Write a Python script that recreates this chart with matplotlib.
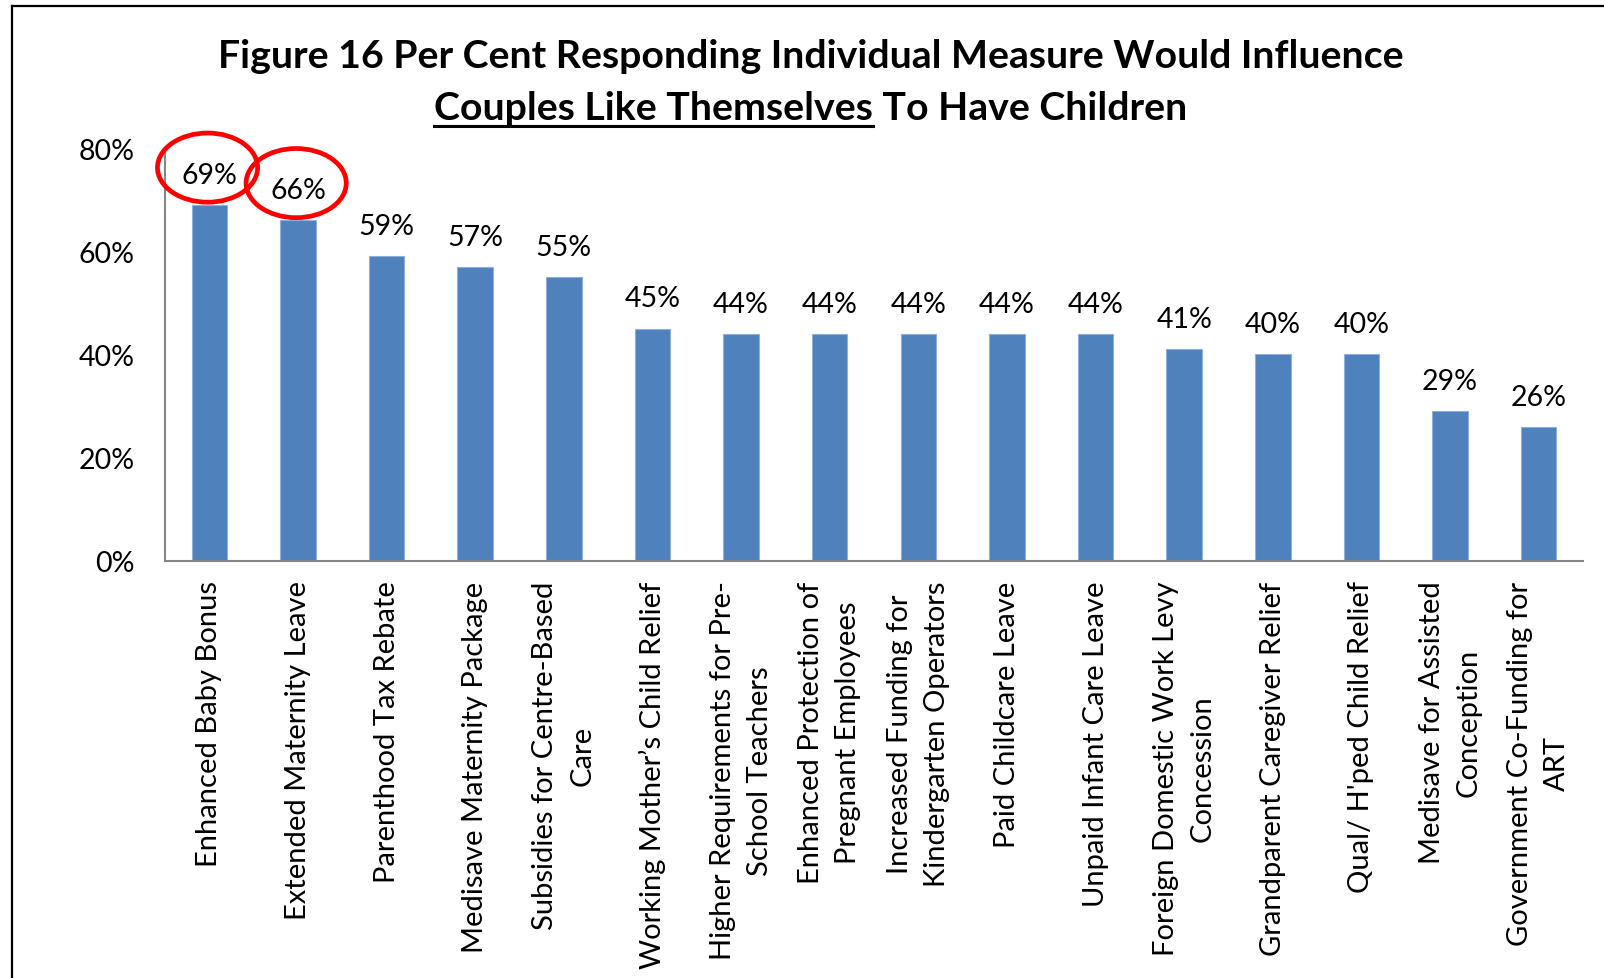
import numpy as np
import matplotlib
matplotlib.use("Agg")
import matplotlib.pyplot as plt
from matplotlib.patches import Ellipse
from matplotlib.lines import Line2D

plt.rcParams["font.family"] = ["Lato", "DejaVu Sans"]

categories = [
    "Enhanced Baby Bonus",
    "Extended Maternity Leave",
    "Parenthood Tax Rebate",
    "Medisave Maternity Package",
    "Subsidies for Centre-Based\nCare",
    "Working Mother\u2019s Child Relief",
    "Higher Requirements for Pre-\nSchool Teachers",
    "Enhanced Protection of\nPregnant Employees",
    "Increased Funding for\nKindergarten Operators",
    "Paid Childcare Leave",
    "Unpaid Infant Care Leave",
    "Foreign Domestic Work Levy\nConcession",
    "Grandparent Caregiver Relief",
    "Qual/ H'ped Child Relief",
    "Medisave for Assisted\nConception",
    "Government Co-Funding for\nART",
]
values = [69, 66, 59, 57, 55, 45, 44, 44, 44, 44, 44, 41, 40, 40, 29, 26]
highlighted = [0, 1]
yticks = [0, 20, 40, 60, 80]

title_line1 = "Figure 16 Per Cent Responding Individual Measure Would Influence"
title_underlined = "Couples Like Themselves"
title_rest = " To Have Children"

W, H = 1604, 979
fig = plt.figure(figsize=(W / 100, H / 100), dpi=100)
fig.patch.set_facecolor("white")

ax = fig.add_axes([165 / W, 0.426, (1583 - 165) / W, 0.8478 - 0.426])
x = np.arange(len(values))
ax.bar(x, values, width=0.4, color="#4F81BD", edgecolor="#8EB0DB", linewidth=0.8)
ax.set_xlim(-0.5, len(values) - 0.5)
ax.set_ylim(0, 80)

ax.set_yticks(yticks)
ax.set_yticklabels([f"{v}%" for v in yticks])
ax.tick_params(axis="y", length=0, pad=22, labelsize=20.5)
ax.set_xticks(x)
ax.set_xticklabels(categories, rotation=90, ha="center", va="top",
                   multialignment="center", fontsize=21, linespacing=1.52)
ax.tick_params(axis="x", length=0, pad=14)

for side in ("top", "right"):
    ax.spines[side].set_visible(False)
for side in ("left", "bottom"):
    ax.spines[side].set_color("#868686")
    ax.spines[side].set_linewidth(1.5)

# value labels above each bar
for xi, v in zip(x, values):
    ax.annotate(f"{v}%", (xi, v), xytext=(0, 16), textcoords="offset points",
                ha="center", va="baseline", fontsize=20.5)

# red rings around the two leading measures
for i in highlighted:
    ring = Ellipse((i - 0.02, values[i] + 7.2), 1.13, 13.4, fill=False,
                   edgecolor="#FF0000", linewidth=3.4, clip_on=False, zorder=5)
    ax.add_patch(ring)

# title
cx = 811 / W
tsize = 28.3
fig.text(cx, (H - 68) / H, title_line1, ha="center", va="baseline",
         fontsize=tsize, fontweight="bold")
y2 = (H - 120) / H
full = fig.text(cx, y2, title_underlined + title_rest, ha="center",
                va="baseline", fontsize=tsize, fontweight="bold")
renderer = fig.canvas.get_renderer()
probe = fig.text(0, 0, title_underlined, fontsize=tsize, fontweight="bold")
w_under = probe.get_window_extent(renderer).width
probe.remove()
bb = full.get_window_extent(renderer)
uy = (H - 127) / H
fig.add_artist(Line2D([bb.x0 / W, (bb.x0 + w_under) / W], [uy, uy],
                      transform=fig.transFigure, color="black", linewidth=2.2))

# outer frame
fx, fy = 12 / W, (H - 7) / H
fig.add_artist(Line2D([fx, fx], [0, fy], transform=fig.transFigure,
                      color="black", linewidth=1.6))
fig.add_artist(Line2D([fx, 1], [fy, fy], transform=fig.transFigure,
                      color="black", linewidth=1.6))

fig.savefig("out.png", dpi=100)
